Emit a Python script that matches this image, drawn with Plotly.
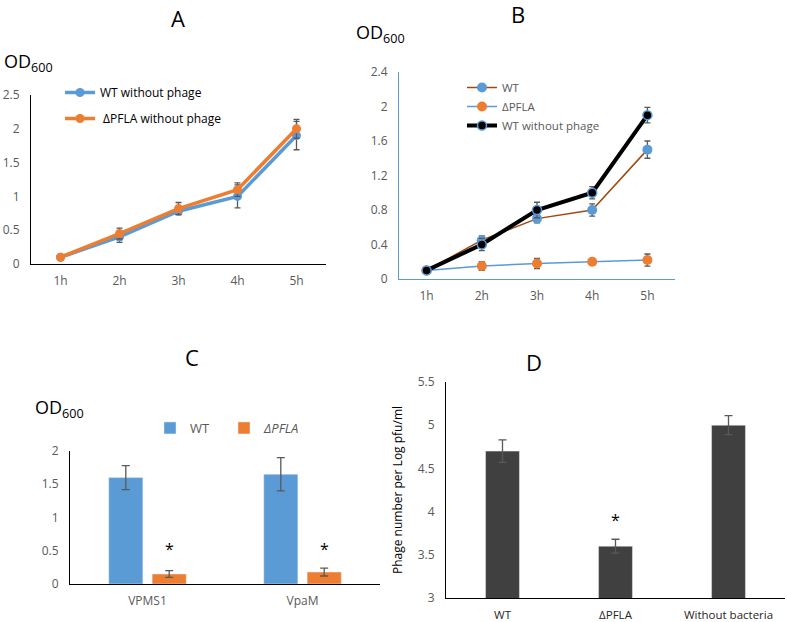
import plotly.graph_objects as go

W, H = 787, 622

# ---------------- data ----------------
hours = ["1h", "2h", "3h", "4h", "5h"]

# Panel A
a_wt = [0.1, 0.4, 0.78, 1.0, 1.9]
a_wt_err = [0.02, 0.08, 0.05, 0.17, 0.21]
a_pfla = [0.1, 0.45, 0.82, 1.1, 2.0]
a_pfla_err = [0.02, 0.08, 0.09, 0.1, 0.14]

# Panel B
b_wt = [0.1, 0.45, 0.7, 0.8, 1.5]
b_wt_err = [0.02, 0.05, 0.05, 0.07, 0.1]
b_pfla = [0.1, 0.15, 0.18, 0.2, 0.22]
b_pfla_err = [0.02, 0.05, 0.06, 0.02, 0.07]
b_wt_np = [0.1, 0.4, 0.8, 1.0, 1.9]
b_wt_np_err = [0.02, 0.07, 0.09, 0.07, 0.09]

# Panel C
c_phages = ["VPMS1", "VpaM"]
c_wt = [1.6, 1.65]
c_wt_err = [0.18, 0.25]
c_pfla = [0.15, 0.18]
c_pfla_err = [0.05, 0.06]

# Panel D
d_groups = ["WT", "ΔPFLA", "Without bacteria"]
d_vals = [4.7, 3.6, 5.0]
d_err = [0.13, 0.08, 0.11]

BLUE = "#5B9BD5"
ORANGE = "#ED7D31"
GRAY = "#595959"
FONT = "Open Sans"


def px(x):
    return x / W


def py(y):
    return 1 - y / H


def err(vals, w=3):
    return dict(type="data", array=vals, visible=True, color=GRAY, thickness=1.3, width=w)


fig = go.Figure()

# ---- A ----
fig.add_trace(go.Scatter(x=hours, y=a_wt, mode="lines+markers", name="WT without phage",
                         line=dict(color=BLUE, width=3.5), marker=dict(color=BLUE, size=9),
                         error_y=err(a_wt_err), xaxis="x", yaxis="y", legend="legend",
                         legendgroup="a1"))
fig.add_trace(go.Scatter(x=hours, y=a_pfla, mode="lines+markers", name=" ΔPFLA without phage",
                         line=dict(color=ORANGE, width=3.5), marker=dict(color=ORANGE, size=9),
                         error_y=err(a_pfla_err), xaxis="x", yaxis="y", legend="legend",
                         legendgroup="a2"))

# ---- B ----
fig.add_trace(go.Scatter(x=hours, y=b_wt, mode="lines+markers", name="WT",
                         line=dict(color="#9E480E", width=1.5), marker=dict(color=BLUE, size=10),
                         error_y=err(b_wt_err), xaxis="x2", yaxis="y2", legend="legend2"))
fig.add_trace(go.Scatter(x=hours, y=b_pfla, mode="lines+markers", name="ΔPFLA",
                         line=dict(color=BLUE, width=1.5), marker=dict(color=ORANGE, size=10),
                         error_y=err(b_pfla_err), xaxis="x2", yaxis="y2", legend="legend2"))
fig.add_trace(go.Scatter(x=hours, y=b_wt_np, mode="lines+markers", name="WT without phage",
                         line=dict(color="black", width=4),
                         marker=dict(color="black", size=9, line=dict(color=BLUE, width=1.5)),
                         error_y=err(b_wt_np_err), xaxis="x2", yaxis="y2", legend="legend2"))

# ---- C ----
fig.add_trace(go.Bar(x=c_phages, y=c_wt, name="WT", marker=dict(color=BLUE),
                     offset=-0.25, width=0.22,
                     error_y=err(c_wt_err, 4), xaxis="x3", yaxis="y3", legend="legend3"))
fig.add_trace(go.Bar(x=c_phages, y=c_pfla, name="<i>ΔPFLA</i>", marker=dict(color=ORANGE),
                     offset=0.03, width=0.22,
                     error_y=err(c_pfla_err, 4), xaxis="x3", yaxis="y3", legend="legend3"))

# ---- D ----
fig.add_trace(go.Bar(x=d_groups, y=d_vals, name="D", marker=dict(color="#404040"),
                     width=0.3, showlegend=False,
                     error_y=err(d_err, 4), xaxis="x4", yaxis="y4"))

tickfont = dict(family=FONT, size=12, color=GRAY)


def xax(dom, anchor, rng, linecolor="black"):
    return dict(domain=[px(dom[0]), px(dom[1])], anchor=anchor, range=rng, showline=True,
                linecolor=linecolor, linewidth=1, showgrid=False, zeroline=False,
                ticks="outside", ticklen=6, tickcolor="rgba(0,0,0,0)", tickfont=tickfont,
                fixedrange=True)


def yax(dom, anchor, rng, dtick, linecolor="black"):
    return dict(domain=[py(dom[1]), py(dom[0])], anchor=anchor, range=rng, dtick=dtick,
                showline=True, linecolor=linecolor, linewidth=1, showgrid=False,
                zeroline=False, ticks="outside", ticklen=8, tickcolor="rgba(0,0,0,0)",
                tickfont=tickfont, fixedrange=True)


layout = dict(
    width=W, height=H, margin=dict(l=0, r=0, t=0, b=0, autoexpand=False),
    paper_bgcolor="white", plot_bgcolor="white",
    font=dict(family=FONT, color="black"),
    barmode="group",
    xaxis=xax((31, 326), "y", [-0.5, 4.5]),
    yaxis=yax((95, 264), "x", [0, 2.5], 0.5),
    xaxis2=xax((399, 675), "y2", [-0.5, 4.5], BLUE),
    yaxis2=yax((72, 279), "x2", [0, 2.4], 0.4, BLUE),
    xaxis3=xax((70, 380), "y3", [-0.5, 1.5]),
    yaxis3=yax((451, 584), "x3", [0, 2], 0.5),
    xaxis4=xax((446, 785), "y4", [-0.5, 2.5]),
    yaxis4=yax((382, 598), "x4", [3, 5.5], 0.5),
    legend=dict(x=px(60), y=py(78), xanchor="left", yanchor="top", bgcolor="rgba(0,0,0,0)",
                font=dict(family=FONT, size=12, color="black"), tracegroupgap=7,
                itemclick=False),
    legend2=dict(x=px(462), y=py(73), xanchor="left", yanchor="top", bgcolor="rgba(0,0,0,0)",
                 font=dict(family=FONT, size=11.5, color=GRAY), itemclick=False),
    legend3=dict(x=px(150), y=py(413), xanchor="left", yanchor="top", orientation="h",
                 bgcolor="rgba(0,0,0,0)", font=dict(family=FONT, size=13, color=GRAY),
                 entrywidth=29, entrywidthmode="pixels", itemclick=False),
)
layout["xaxis4"]["tickfont"] = dict(family=FONT, size=11.5, color="#262626")
layout["yaxis4"]["title"] = dict(text="Phage number per Log pfu/ml",
                                 font=dict(family=FONT, size=12, color="black"), standoff=12)
fig.update_layout(**layout)

annots = [
    dict(text="A", x=px(178), y=py(18), font=dict(size=22)),
    dict(text="B", x=px(518), y=py(14), font=dict(size=22)),
    dict(text="C", x=px(192), y=py(357), font=dict(size=22)),
    dict(text="D", x=px(534), y=py(362), font=dict(size=22)),
    dict(text="OD<sub>600</sub>", x=px(2), y=py(63), xanchor="left", font=dict(size=18)),
    dict(text="OD<sub>600</sub>", x=px(354), y=py(33), xanchor="left", font=dict(size=18)),
    dict(text="OD<sub>600</sub>", x=px(33), y=py(408), xanchor="left", font=dict(size=18)),
]
for a in annots:
    a.update(xref="paper", yref="paper", showarrow=False, yanchor="middle")
    a.setdefault("xanchor", "center")
    a["font"].update(family=FONT, color="black")
star = dict(text="*", showarrow=False, font=dict(family=FONT, size=16, color="black"))
annots += [
    dict(star, xref="x3", yref="y3", x=0, y=0.52, xshift=22),
    dict(star, xref="x3", yref="y3", x=1, y=0.52, xshift=22),
    dict(star, xref="x4", yref="y4", x=1, y=3.9),
]
fig.update_layout(annotations=annots)

fig.write_html("out.html", config={"displayModeBar": False},
               post_script="document.body.style.margin='0';document.body.style.padding='0';")
